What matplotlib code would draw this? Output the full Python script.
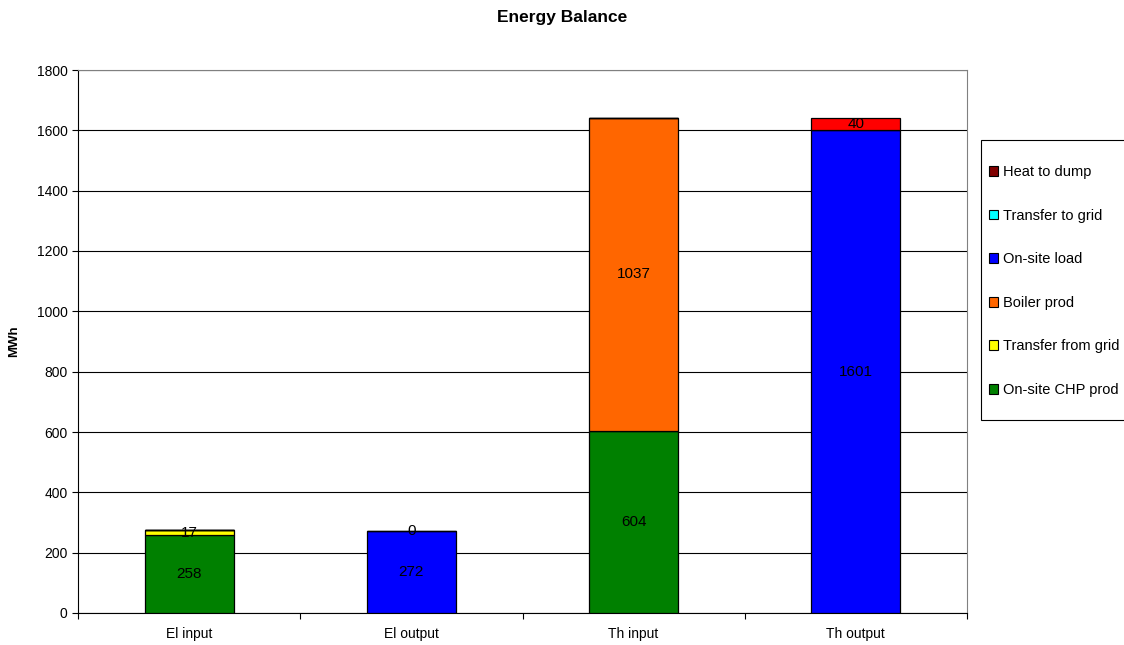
import numpy as np
import matplotlib.pyplot as plt
from matplotlib.patches import Patch, Rectangle

plt.rcParams['font.family'] = ['Liberation Sans', 'DejaVu Sans']

# categories and stacked series (nan = series not present on that bar)
categories = ['El input', 'El output', 'Th input', 'Th output']
chp_prod = [258, np.nan, 604, np.nan]
from_grid = [17, np.nan, np.nan, np.nan]
boiler_prod = [np.nan, np.nan, 1037, np.nan]
onsite_load = [np.nan, 272, np.nan, 1601]
to_grid = [np.nan, 0, np.nan, np.nan]
heat_dump = [np.nan, np.nan, np.nan, 40]

series = [
    ('On-site CHP prod', chp_prod, '#008000', '#008000'),
    ('Transfer from grid', from_grid, '#FFFF00', '#FFFF00'),
    ('Boiler prod', boiler_prod, '#FF6600', '#FF6600'),
    ('On-site load', onsite_load, '#0000FF', '#0000FF'),
    ('Transfer to grid', to_grid, '#00FFFF', '#00FFFF'),
    ('Heat to dump', heat_dump, '#FF0000', '#800000'),
]

W, H = 1124, 645
fig = plt.figure(figsize=(W / 100, H / 100), dpi=100)
ax = fig.add_axes([78 / W, 1 - 613 / H, 889 / W, 543 / H])

x = np.arange(len(categories))
bottom = np.zeros(len(categories))
for name, vals, color, _ in series:
    v = np.array(vals, dtype=float)
    h = np.nan_to_num(v)
    ax.bar(x, h, 0.4, bottom=bottom, color=color, edgecolor='black',
           linewidth=0.9, zorder=3)
    for i in range(len(categories)):
        if not np.isnan(v[i]):
            ax.text(x[i], bottom[i] + h[i] / 2, f'{int(v[i])}',
                    ha='center', va='center', fontsize=11, zorder=4)
    bottom += h

ax.set_xlim(-0.5, len(categories) - 0.5)
ax.set_ylim(0, 1800)
ax.set_yticks(np.arange(0, 1801, 200))
ax.yaxis.grid(True, color='black', linewidth=0.8, zorder=0)
ax.set_xticks(np.arange(-0.5, len(categories)), minor=False)
ax.set_xticklabels([])
ax.set_xticks(x, minor=True)
ax.set_xticklabels(categories, minor=True)
ax.tick_params(axis='x', which='minor', length=0, pad=10, labelsize=10)
ax.tick_params(axis='x', which='major', length=4, direction='out')
ax.tick_params(axis='y', length=4, direction='out', labelsize=10)

for s in ['top', 'right']:
    ax.spines[s].set_color('#808080')
for s in ['left', 'bottom']:
    ax.spines[s].set_color('black')

ax.set_ylabel('MWh', fontsize=9.5, fontweight='bold', labelpad=12)
fig.suptitle('Energy Balance', fontsize=12.5, fontweight='bold', y=0.985)

# legend box, runs off the right edge
fig.add_artist(Rectangle((981 / W, 1 - 420 / H), 200 / W, 280 / H,
                         transform=fig.transFigure, facecolor='white',
                         edgecolor='black', linewidth=0.8))
handles = [Patch(facecolor=lc, edgecolor='black', linewidth=0.8, label=name)
           for name, _, _, lc in reversed(series)]
leg = fig.legend(handles=handles, loc='upper left',
                 bbox_to_anchor=(989 / W, 1 - 165 / H), fontsize=10.5,
                 frameon=False, labelspacing=2.03, handlelength=0.65,
                 handleheight=0.65, handletextpad=0.3, borderpad=0,
                 borderaxespad=0)

fig.savefig('out.png', dpi=100)
